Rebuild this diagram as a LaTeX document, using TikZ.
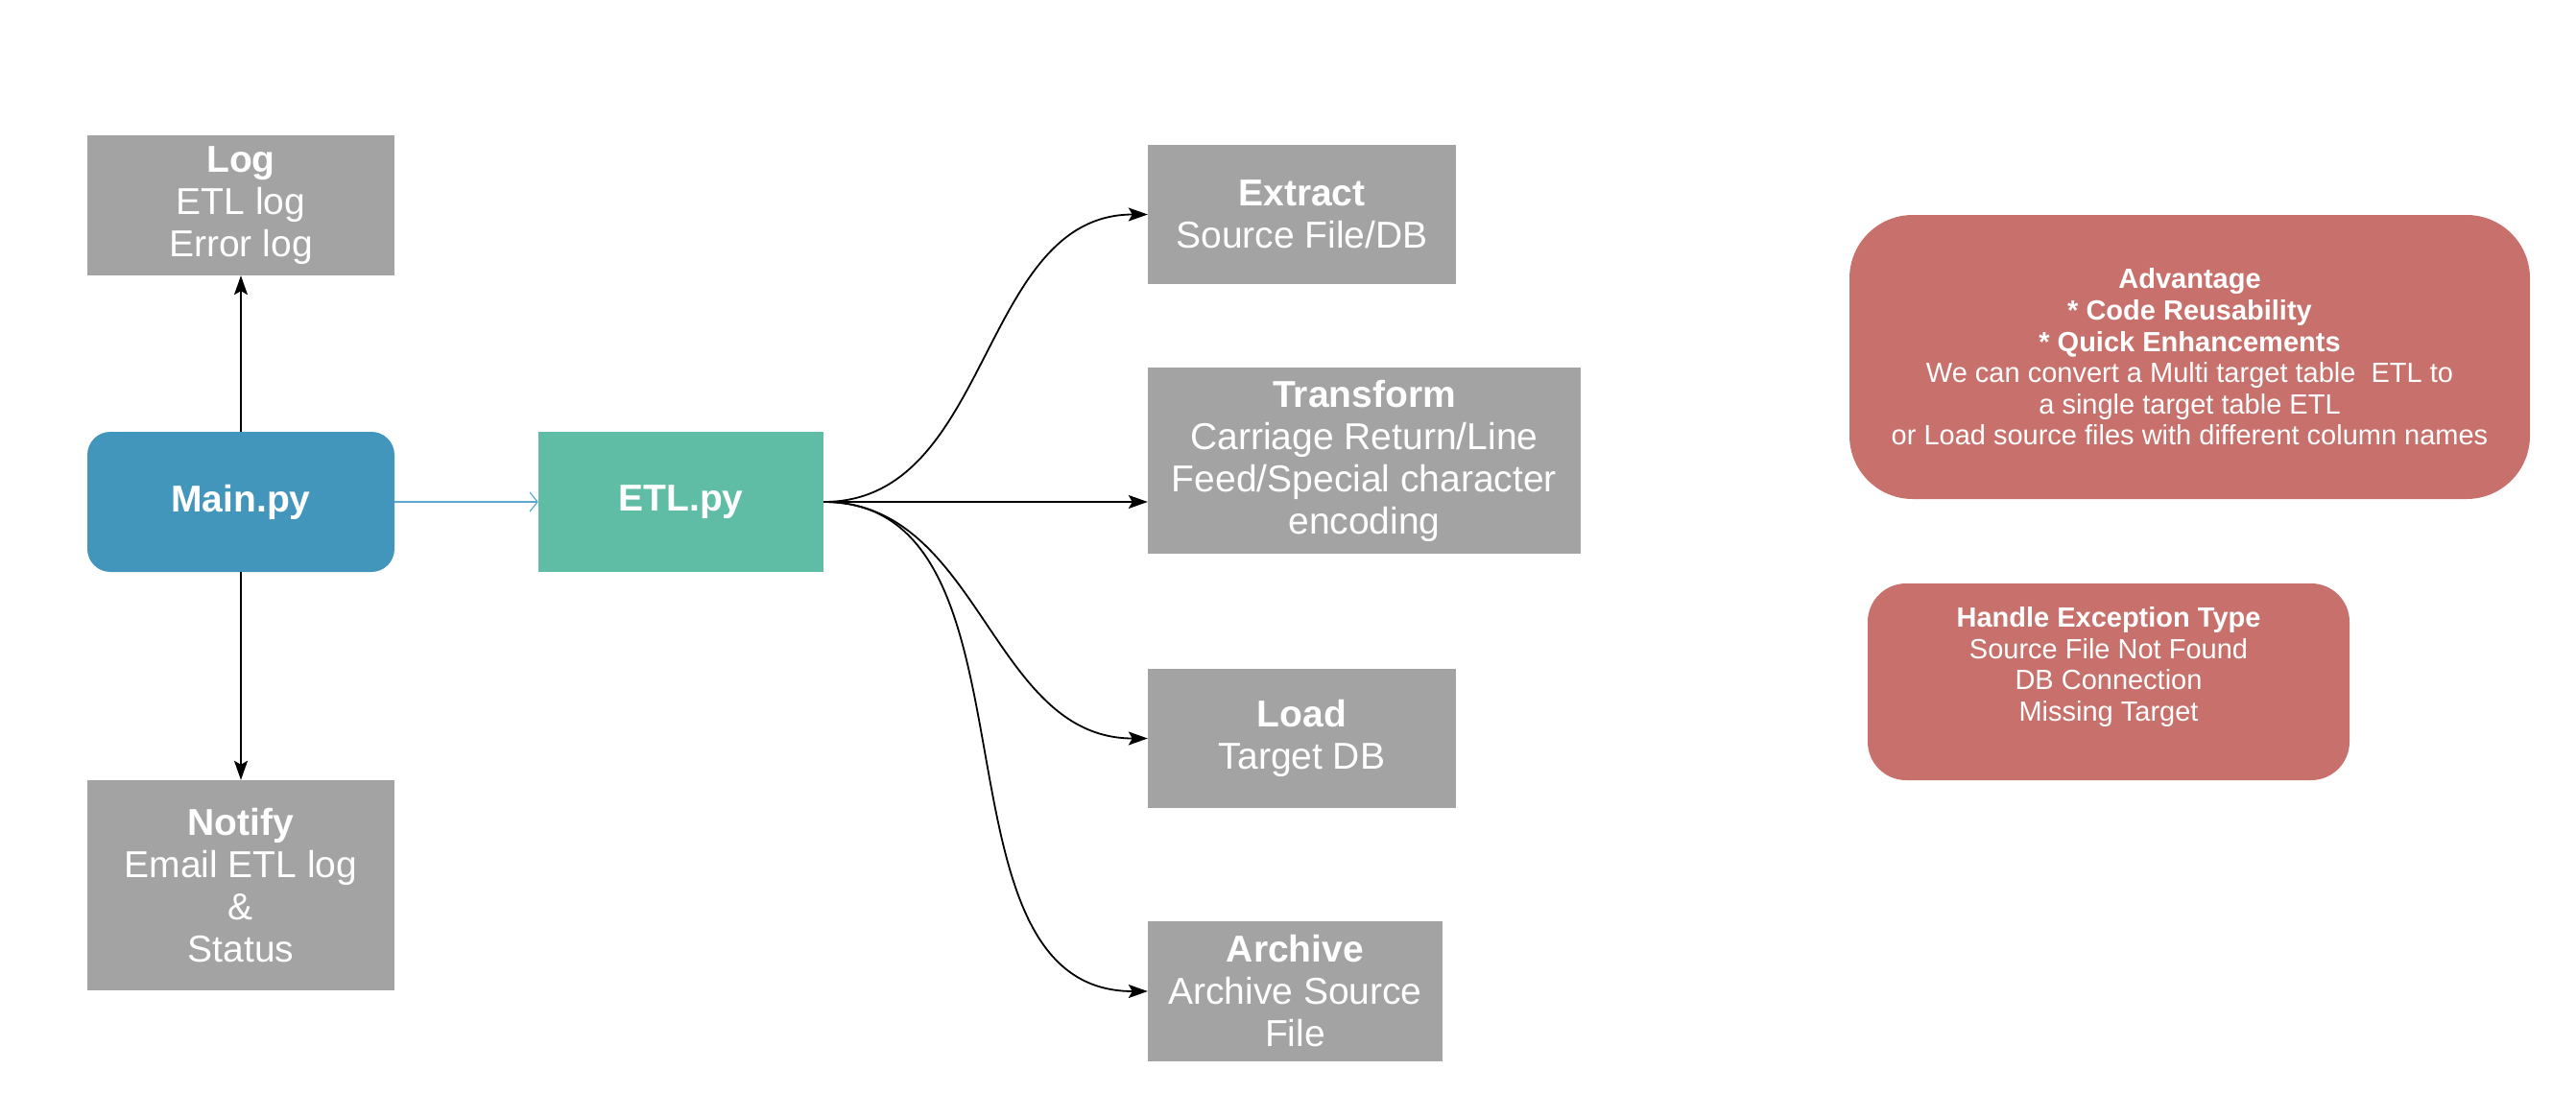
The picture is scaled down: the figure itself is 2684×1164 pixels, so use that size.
\documentclass[tikz,border=0pt]{standalone}
\usepackage{fontspec}
\setmainfont{Liberation Sans}
\usetikzlibrary{arrows.meta}
\definecolor{boxgray}{HTML}{A3A3A3}
\definecolor{mainblue}{HTML}{4396BB}
\definecolor{etlgreen}{HTML}{5FBDA6}
\definecolor{notered}{HTML}{C8706C}
\definecolor{linkblue}{HTML}{5BA8D0}
\begin{document}
\begin{tikzpicture}[x=1pt,y=-1pt,
	stage/.style={fill=boxgray, text=white, align=center, inner sep=0pt, font=\fontsize{39}{44}\selectfont},
	note/.style={fill=notered, text=white, align=center, inner sep=0pt, font=\fontsize{29}{32.6}\selectfont},
	flow/.style={line width=1.8pt, -{Stealth[length=20pt,width=14pt,inset=4pt]}}]
	\useasboundingbox (0,0) rectangle (2684,1164);
	% driver side
	\node[stage, minimum width=320pt, minimum height=146pt] (log) at (251,214) {\textbf{Log}\\ETL log\\Error log};
	\node[stage, fill=mainblue, rounded corners=24pt, minimum width=320pt, minimum height=146pt] (main) at (251,523) {\textbf{Main.py}};
	\node[stage, fill=etlgreen, minimum width=297pt, minimum height=146pt] (etl) at (709.5,523) {\textbf{ETL.py}};
	\node[stage, minimum width=320pt, minimum height=219pt] (notify) at (251,922.5) {\textbf{Notify}\\Email ETL log\\\&\\Status};
	% etl steps
	\node[stage, minimum width=321pt, minimum height=145pt] (extract) at (1356.5,223.5) {\textbf{Extract}\\Source File/DB};
	\node[stage, minimum width=451pt, minimum height=194pt] (transform) at (1421.5,480) {\textbf{Transform}\\Carriage Return/Line\\Feed/Special character\\encoding};
	\node[stage, minimum width=321pt, minimum height=145pt] (load) at (1356.5,769.5) {\textbf{Load}\\Target DB};
	\node[stage, minimum width=307pt, minimum height=146pt] (archive) at (1349.5,1033) {\textbf{Archive}\\Archive Source\\File};
	% notes
	\node[note, rounded corners=66pt, minimum width=709pt, minimum height=296pt] (advantage) at (2281.5,372) {\textbf{Advantage}\\\textbf{* Code Reusability}\\\textbf{* Quick Enhancements}\\We can convert a Multi target table~ ETL to\\a single target table ETL\\or Load source files with different column names};
	\node[note, rounded corners=40pt, minimum width=502pt, minimum height=205pt] (handle) at (2197,710.5) {};
	\node[note, fill=none] (handletext) at (2197,695) {\textbf{Handle Exception Type}\\Source File Not Found\\DB Connection\\Missing Target};
	% links
	\draw[flow] (main) -- (log);
	\draw[flow] (main) -- (notify);
	\draw[linkblue, line width=1.2pt, -{Straight Barb[length=8pt,width=20pt]}] (main) -- (etl);
	\draw[flow] (etl.east) to[out=0,in=180] (extract.west);
	\draw[flow] (etl.east) -- (etl.east -| transform.west);
	\draw[flow] (etl.east) to[out=0,in=180] (load.west);
	\draw[flow] (etl.east) to[out=0,in=180] (archive.west);
\end{tikzpicture}
\end{document}
